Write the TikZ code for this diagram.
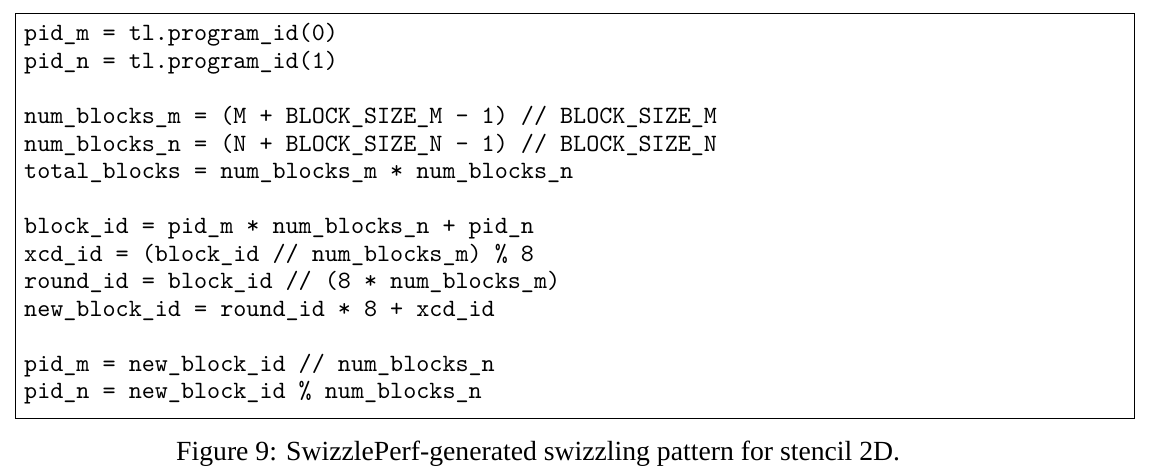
\documentclass[tikz,border=0pt]{standalone}
\usepackage{fontspec}
\setmonofont{lmmono10-regular.otf}
\newfontfamily\capfont{Liberation Serif}
\begin{document}
\begin{tikzpicture}[x=1pt,y=1pt,
  codeline/.style={anchor=base west,inner sep=0pt,font=\fontsize{24.9}{27.5}\selectfont\ttfamily},
  frame/.style={draw=black,line width=1.1pt},
  captext/.style={anchor=base west,inner sep=0pt,font=\fontsize{27.7}{33}\selectfont\capfont}]
\useasboundingbox[fill=white] (0,0) rectangle (1151,475);
\node[frame,minimum width=1119pt,minimum height=405pt,inner sep=0pt,anchor=south west] (box) at (15,56) {};
\node[codeline] (l1) at (24,434) {pid\_m = tl.program\_id(0)};
\node[codeline] (l2) at (24,406.5) {pid\_n = tl.program\_id(1)};
\node[codeline] (l4) at (24,351.5) {num\_blocks\_m = (M + BLOCK\_SIZE\_M - 1) // BLOCK\_SIZE\_M};
\node[codeline] (l5) at (24,324) {num\_blocks\_n = (N + BLOCK\_SIZE\_N - 1) // BLOCK\_SIZE\_N};
\node[codeline] (l6) at (24,296.5) {total\_blocks = num\_blocks\_m * num\_blocks\_n};
\node[codeline] (l8) at (24,241.5) {block\_id = pid\_m * num\_blocks\_n + pid\_n};
\node[codeline] (l9) at (24,214) {xcd\_id = (block\_id // num\_blocks\_m) \% 8};
\node[codeline] (l10) at (24,186.5) {round\_id = block\_id // (8 * num\_blocks\_m)};
\node[codeline] (l11) at (24,159) {new\_block\_id = round\_id * 8 + xcd\_id};
\node[codeline] (l13) at (24,104) {pid\_m = new\_block\_id // num\_blocks\_n};
\node[codeline] (l14) at (24,76.5) {pid\_n = new\_block\_id \% num\_blocks\_n};
\node[captext] (cap) at (176,15) {Figure 9: SwizzlePerf-generated swizzling pattern for stencil 2D.};
\end{tikzpicture}
\end{document}
